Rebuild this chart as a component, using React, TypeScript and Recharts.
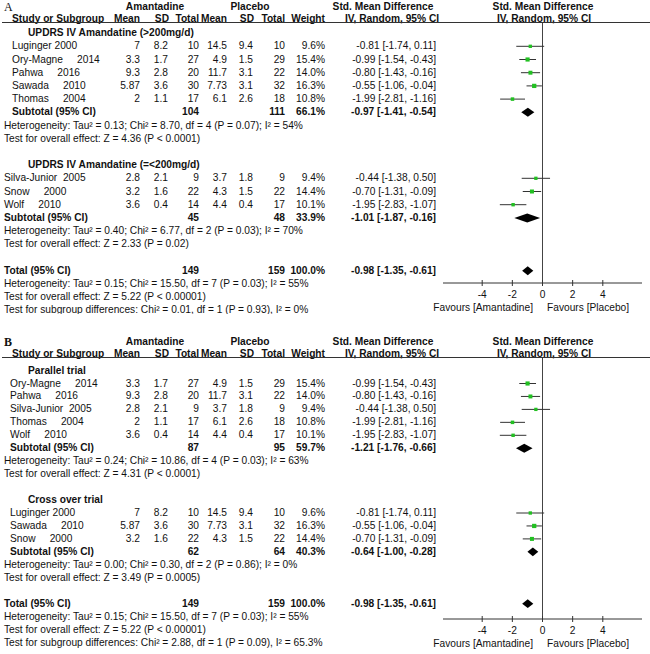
import React from 'react'
import {
    ScatterChart,
    Scatter,
    XAxis,
    YAxis,
    ErrorBar,
    ReferenceLine,
    ReferenceArea,
} from 'recharts'

// studies
const studyLabels = [
    'Luginger 2000',
    'Ory-Magne     2014',
    'Pahwa     2016',
    'Sawada     2010',
    'Thomas     2004',
    'Silva-Junior  2005',
    'Snow     2000',
    'Wolf     2010',
]
const amaMean = [7, 3.3, 9.3, 5.87, 2, 2.8, 3.2, 3.6]
const amaSD = [8.2, 1.7, 2.8, 3.6, 1.1, 2.1, 1.6, 0.4]
const amaN = [10, 27, 20, 30, 17, 9, 22, 14]
const plaMean = [14.5, 4.9, 11.7, 7.73, 6.1, 3.7, 4.3, 4.4]
const plaSD = [9.4, 1.5, 3.1, 3.1, 2.6, 1.8, 1.5, 0.4]
const plaN = [10, 29, 22, 32, 18, 9, 22, 17]
const weightA = [9.6, 15.4, 14.0, 16.3, 10.8, 9.4, 14.4, 10.1]
const smd = [-0.81, -0.99, -0.8, -0.55, -1.99, -0.44, -0.7, -1.95]
const ciLow = [-1.74, -1.54, -1.43, -1.06, -2.81, -1.38, -1.31, -2.83]
const ciHigh = [0.11, -0.43, -0.16, -0.04, -1.16, 0.5, -0.09, -1.07]

// panel A subgroups
const titlesA = ['UPDRS IV Amandatine (>200mg/d)', 'UPDRS IV Amandatine (=<200mg/d)']
const membersA = [[0, 1, 2, 3, 4], [5, 6, 7]]
const subNA = [[104, 111], [45, 48]]
const subWeightA = [66.1, 33.9]
const subSmdA = [[-0.97, -1.41, -0.54], [-1.01, -1.87, -0.16]]
const hetA = [
    'Heterogeneity: Tau² = 0.13; Chi² = 8.70, df = 4 (P = 0.07); I² = 54%',
    'Heterogeneity: Tau² = 0.40; Chi² = 6.77, df = 2 (P = 0.03); I² = 70%',
]
const testA = [
    'Test for overall effect: Z = 4.36 (P < 0.0001)',
    'Test for overall effect: Z = 2.33 (P = 0.02)',
]
const diffA = 'Test for subgroup differences: Chi² = 0.01, df = 1 (P = 0.93), I² = 0%'

// panel B subgroups
const titlesB = ['Parallel trial', 'Cross over trial']
const membersB = [[1, 2, 5, 4, 7], [0, 3, 6]]
const subNB = [[87, 95], [62, 64]]
const subWeightB = [59.7, 40.3]
const subSmdB = [[-1.21, -1.76, -0.66], [-0.64, -1.0, -0.28]]
const hetB = [
    'Heterogeneity: Tau² = 0.24; Chi² = 10.86, df = 4 (P = 0.03); I² = 63%',
    'Heterogeneity: Tau² = 0.00; Chi² = 0.30, df = 2 (P = 0.86); I² = 0%',
]
const testB = [
    'Test for overall effect: Z = 4.31 (P < 0.0001)',
    'Test for overall effect: Z = 3.49 (P = 0.0005)',
]
const diffB = 'Test for subgroup differences: Chi² = 2.88, df = 1 (P = 0.09), I² = 65.3%'

// overall
const totalN = [149, 159]
const totalSmd = [-0.98, -1.35, -0.61]
const totalHet = 'Heterogeneity: Tau² = 0.15; Chi² = 15.50, df = 7 (P = 0.03); I² = 55%'
const totalTest = 'Test for overall effect: Z = 5.22 (P < 0.00001)'

const xTicks = [-4, -2, 0, 2, 4]

const FONT = '"Liberation Sans", Arial, Helvetica, sans-serif'
const FS = 10.2
const GREEN = '#22c022'
const INK = '#111'

// column right edges
const COLS = [140, 168, 199, 227, 253, 285, 325]
const CI_RIGHT = 436

function T({ x, y, children, align = 'left', bold = false, size = FS, family = FONT }: any) {
    const style: React.CSSProperties = {
        position: 'absolute',
        top: y - 6,
        lineHeight: '12px',
        fontSize: size,
        fontFamily: family,
        fontWeight: bold ? 'bold' : 'normal',
        whiteSpace: 'pre',
        color: INK,
    }
    if (align === 'left') style.left = x
    else if (align === 'right') {
        style.left = x - 300
        style.width = 300
        style.textAlign = 'right'
    } else {
        style.left = x - 150
        style.width = 300
        style.textAlign = 'center'
    }
    return <div style={style}>{children}</div>
}

const fmtCI = (v: number[]) => `${v[0].toFixed(2)} [${v[1].toFixed(2)}, ${v[2].toFixed(2)}]`

function AxisTick(props: any) {
    const { x, y, payload } = props
    return (
        <g>
            <line x1={x} x2={x} y1={y - 3} y2={y + 3} stroke="#333" />
            <text x={x} y={y + 14.5} textAnchor="middle" fontSize={FS} fontFamily={FONT} fill={INK}>
                {payload.value}
            </text>
        </g>
    )
}

function Panel(props: any) {
    const { letter, titles, members, subN, subW, subSmd, het, test, diff, indents, rowTop, rowH, axisY, top, height } = props
    const rowY = (i: number) => rowTop + rowH * i
    const lines: React.ReactNode[] = []
    const points: any[] = []
    const diamonds: any[] = []
    let r = -1
    let k = 0

    titles.forEach((title: string, g: number) => {
        lines.push(<T key={k++} x={28} y={rowY(r)} bold>{title}</T>)
        r++
        members[g].forEach((s: number) => {
            const y = rowY(r)
            lines.push(<T key={k++} x={indents[g]} y={y}>{studyLabels[s]}</T>)
            const cells = [amaMean[s], amaSD[s], amaN[s], plaMean[s], plaSD[s], plaN[s]]
            cells.forEach((c, j) => lines.push(<T key={k++} x={COLS[j]} y={y} align="right">{String(c)}</T>))
            lines.push(<T key={k++} x={COLS[6]} y={y} align="right">{weightA[s].toFixed(1) + '%'}</T>)
            lines.push(<T key={k++} x={CI_RIGHT} y={y} align="right">{fmtCI([smd[s], ciLow[s], ciHigh[s]])}</T>)
            points.push({ x: smd[s], y: r, err: [smd[s] - ciLow[s], ciHigh[s] - smd[s]], w: weightA[s] })
            r++
        })
        const y = rowY(r)
        lines.push(<T key={k++} x={indents[g]} y={y} bold>Subtotal (95% CI)</T>)
        lines.push(<T key={k++} x={COLS[2]} y={y} align="right" bold>{String(subN[g][0])}</T>)
        lines.push(<T key={k++} x={COLS[5]} y={y} align="right" bold>{String(subN[g][1])}</T>)
        lines.push(<T key={k++} x={COLS[6]} y={y} align="right" bold>{subW[g].toFixed(1) + '%'}</T>)
        lines.push(<T key={k++} x={CI_RIGHT} y={y} align="right" bold>{fmtCI(subSmd[g])}</T>)
        diamonds.push({ est: subSmd[g][0], lo: subSmd[g][1], hi: subSmd[g][2], y: r })
        r++
        lines.push(<T key={k++} x={4} y={rowY(r)}>{het[g]}</T>)
        r++
        lines.push(<T key={k++} x={4} y={rowY(r)}>{test[g]}</T>)
        r++
        r++ // blank
    })

    const ty = rowY(r)
    lines.push(<T key={k++} x={4} y={ty} bold>Total (95% CI)</T>)
    lines.push(<T key={k++} x={COLS[2]} y={ty} align="right" bold>{String(totalN[0])}</T>)
    lines.push(<T key={k++} x={COLS[5]} y={ty} align="right" bold>{String(totalN[1])}</T>)
    lines.push(<T key={k++} x={COLS[6]} y={ty} align="right" bold>100.0%</T>)
    lines.push(<T key={k++} x={CI_RIGHT} y={ty} align="right" bold>{fmtCI(totalSmd)}</T>)
    diamonds.push({ est: totalSmd[0], lo: totalSmd[1], hi: totalSmd[2], y: r })
    r++
    lines.push(<T key={k++} x={4} y={rowY(r)}>{totalHet}</T>)
    r++
    lines.push(<T key={k++} x={4} y={rowY(r)}>{totalTest}</T>)
    r++
    lines.push(<T key={k++} x={4} y={rowY(r)}>{diff}</T>)

    const plotTop = 23
    const chartH = 320
    const yDomain = [(plotTop - rowTop) / rowH, (axisY - rowTop) / rowH]

    return (
        <div style={{ position: 'absolute', left: 0, top, width: 650, height, overflow: 'hidden' }}>
            <T x={4} y={7} size={12} family='"Liberation Serif", "Times New Roman", serif' bold={letter === 'B'}>{letter}</T>
            <T x={155} y={6.5} align="center" bold>Amantadine</T>
            <T x={250} y={6.5} align="center" bold>Placebo</T>
            <T x={383} y={6.5} align="center" bold>Std. Mean Difference</T>
            <T x={543} y={6.5} align="center" bold>Std. Mean Difference</T>
            <T x={12} y={18.5} bold>Study or Subgroup</T>
            {['Mean', 'SD', 'Total', 'Mean', 'SD', 'Total', 'Weight'].map((h, j) => (
                <T key={'h' + j} x={COLS[j] + (j === 1 || j === 4 ? 1 : 0)} y={18.5} align="right" bold>{h}</T>
            ))}
            <T x={392} y={18.5} align="center" bold>IV, Random, 95% CI</T>
            <T x={544} y={18.5} align="center" bold>IV, Random, 95% CI</T>
            <div style={{ position: 'absolute', left: 2, top: 22, width: 648, height: 1, background: '#333' }} />
            {lines}
            <T x={533} y={axisY + 25} align="right">Favours [Amantadine]</T>
            <T x={547} y={axisY + 25}>Favours [Placebo]</T>
            <div style={{ position: 'absolute', left: 0, top: 0 }}>
                <ScatterChart width={650} height={chartH} margin={{ top: plotTop, right: 8, bottom: chartH - axisY - 20, left: 443 }}>
                    <XAxis
                        type="number"
                        dataKey="x"
                        domain={[-6.6, 6.6]}
                        ticks={xTicks}
                        allowDataOverflow
                        tickSize={0}
                        tickMargin={0}
                        tickLine={false}
                        tick={<AxisTick />}
                        axisLine={{ stroke: '#333' }}
                        height={20}
                    />
                    <YAxis type="number" dataKey="y" domain={yDomain} reversed allowDataOverflow hide />
                    <ReferenceLine x={0} stroke="#444" strokeWidth={1} />
                    {diamonds.map((d, i) => (
                        <ReferenceArea
                            key={'d' + i}
                            x1={d.lo}
                            x2={d.hi}
                            y1={d.y - 0.34}
                            y2={d.y + 0.34}
                            shape={(p: any) => {
                                const f = (d.est - d.lo) / (d.hi - d.lo)
                                const px = p.x + p.width * f
                                const my = p.y + p.height / 2
                                return (
                                    <polygon
                                        points={`${p.x},${my} ${px},${p.y} ${p.x + p.width},${my} ${px},${p.y + p.height}`}
                                        fill="#000"
                                    />
                                )
                            }}
                        />
                    ))}
                    <Scatter
                        data={points}
                        isAnimationActive={false}
                        shape={(p: any) => {
                            const s = 2 + p.payload.w * 0.14
                            return <rect x={p.cx - s / 2} y={p.cy - s / 2} width={s} height={s} fill={GREEN} />
                        }}
                    >
                        <ErrorBar dataKey="err" direction="x" width={0} stroke="#333" strokeWidth={1} />
                    </Scatter>
                </ScatterChart>
            </div>
        </div>
    )
}

export default function App() {
    return (
        <div style={{ position: 'absolute', left: 0, top: 0, width: 650, height: 654, background: '#fff', overflow: 'hidden' }}>
            <Panel
                letter="A"
                titles={titlesA}
                members={membersA}
                subN={subNA}
                subW={subWeightA}
                subSmd={subSmdA}
                het={hetA}
                test={testA}
                diff={diffA}
                indents={[12, 4]}
                rowTop={46.3}
                rowH={13.2}
                axisY={283}
                top={0}
                height={314}
            />
            <Panel
                letter="B"
                titles={titlesB}
                members={membersB}
                subN={subNB}
                subW={subWeightB}
                subSmd={subSmdB}
                het={hetB}
                test={testB}
                diff={diffB}
                indents={[10, 10]}
                rowTop={48.5}
                rowH={12.95}
                axisY={284}
                top={335}
                height={319}
            />
        </div>
    )
}
